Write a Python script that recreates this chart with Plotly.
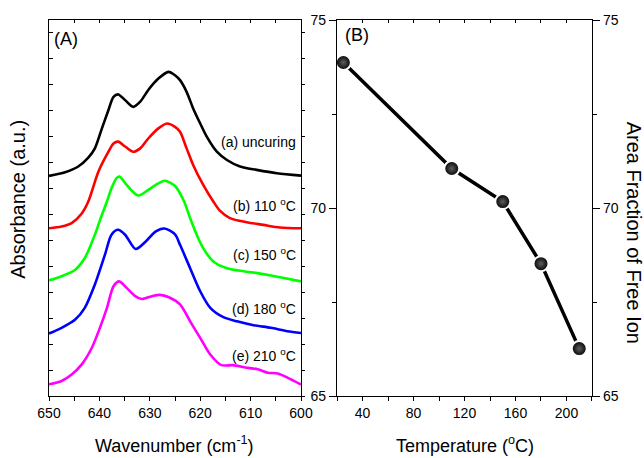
import plotly.graph_objects as go

# ---------------- Panel A data (wavenumber, absorbance a.u. with offsets) ----------------
wn_a = [650, 646.8, 644.2, 642.2, 640.9, 639.5, 638.2, 637.2, 636.25, 634.9, 633.3, 631.9,
        630.3, 628.3, 626.3, 625.0, 624.0, 622.7, 621.4, 620.0, 618.7, 616.7, 614.7, 612.1,
        608.8, 604.8, 600]
abs_a = [8.49, 8.63, 8.85, 9.19, 9.55, 10.32, 11.03, 11.54, 11.63, 11.41, 11.15, 11.35,
         11.80, 12.24, 12.50, 12.37, 12.18, 11.73, 11.09, 10.51, 10.00, 9.42, 9.10, 8.85,
         8.72, 8.59, 8.50]

wn_b = [650, 647.5, 645.5, 643.5, 642.2, 640.2, 638.2, 637.2, 636.25, 634.9, 633.3, 631.9,
        630.3, 628.3, 626.6, 625.0, 624.0, 622.7, 621.4, 619.4, 617.4, 616.1, 614.1, 610.8,
        607.5, 604.2, 600]
abs_b = [6.47, 6.54, 6.67, 7.04, 7.50, 8.65, 9.42, 9.74, 9.81, 9.62, 9.42, 9.55,
         9.93, 10.32, 10.51, 10.38, 10.19, 9.55, 8.91, 8.14, 7.50, 7.15, 6.86, 6.70,
         6.60, 6.50, 6.47]

wn_c = [650, 647.5, 644.8, 642.9, 640.9, 639.5, 638.5, 637.6, 636.6, 636.0, 634.6, 632.3,
        630.3, 628.3, 627.0, 625.0, 623.3, 622.0, 620.7, 619.4, 617.4, 614.7, 611.4, 608.7,
        606.0, 603.4, 600]
abs_c = [4.46, 4.62, 4.87, 5.32, 6.22, 6.99, 7.50, 8.01, 8.40, 8.46, 8.14, 7.73,
         7.95, 8.20, 8.30, 8.10, 7.55, 6.86, 6.22, 5.70, 5.19, 4.93, 4.81, 4.74,
         4.65, 4.55, 4.42]

wn_d = [650, 647.5, 644.8, 642.9, 640.9, 638.9, 637.6, 636.3, 634.9, 632.8, 630.8, 628.8,
        627.1, 625.0, 624.0, 622.0, 620.0, 618.0, 615.4, 612.7, 609.4, 606.0, 602.7, 600]
abs_d = [2.41, 2.63, 2.95, 3.40, 4.30, 5.45, 6.22, 6.41, 6.22, 5.67, 5.96, 6.35,
         6.46, 6.23, 5.83, 4.93, 4.04, 3.40, 3.04, 2.88, 2.73, 2.63, 2.50, 2.43]

wn_e = [650, 647.5, 645.5, 643.5, 641.5, 639.9, 638.5, 637.2, 636.1, 634.6, 632.9, 631.6,
        629.6, 628.0, 626.2, 624.0, 622.0, 620.0, 618.0, 615.8, 613.5, 611.1, 608.6, 606.6,
        604.6, 602.6, 600]
abs_e = [0.45, 0.58, 0.83, 1.22, 1.86, 2.63, 3.40, 4.23, 4.42, 4.17, 3.85, 3.74,
         3.85, 3.90, 3.81, 3.53, 2.88, 2.24, 1.60, 1.19, 1.19, 1.10, 1.03, 0.90,
         0.87, 0.70, 0.44]

curve_names = ["(a) uncuring", "(b) 110 <sup>o</sup>C", "(c) 150 <sup>o</sup>C",
               "(d) 180 <sup>o</sup>C", "(e) 210 <sup>o</sup>C"]
curve_colors = ["#000000", "#FF0000", "#00FF00", "#0000FF", "#FF00FF"]
label_y = [9.81, 7.35, 5.46, 3.38, 1.58]

# ---------------- Panel B data ----------------
temperature = [25, 110, 150, 180, 210]
area_fraction = [73.87, 71.05, 70.17, 68.52, 66.26]

wn_ticks = [650, 645, 640, 635, 630, 625, 620, 615, 610, 605, 600]
temp_ticks = [20, 40, 60, 80, 100, 120, 140, 160, 180, 200, 220]

FONT = "Liberation Sans, Arial, sans-serif"

fig = go.Figure()

series = [(wn_a, abs_a), (wn_b, abs_b), (wn_c, abs_c), (wn_d, abs_d), (wn_e, abs_e)]
for (xs, ys), col in zip(series, curve_colors):
    fig.add_trace(go.Scatter(x=xs, y=ys, mode="lines", xaxis="x", yaxis="y",
                             line=dict(color=col, width=2.6, shape="spline", smoothing=0.8),
                             showlegend=False, hoverinfo="skip"))

fig.add_trace(go.Scatter(x=temperature, y=area_fraction, mode="lines+markers",
                         xaxis="x2", yaxis="y2",
                         line=dict(color="black", width=3.5),
                         marker=dict(size=15, color="black",
                                     gradient=dict(type="radial", color="#5e5e5e"),
                                     line=dict(color="white", width=2)),
                         showlegend=False, hoverinfo="skip"))

axcommon = dict(showgrid=False, zeroline=False, showline=True, linecolor="black",
                linewidth=1.3, tickcolor="black", tickwidth=1.2,
                tickfont=dict(family=FONT, size=14, color="black"))

dA = [0, 0.4641]
dB = [0.5304, 1]

fig.update_layout(
    width=644, height=458,
    margin=dict(l=49, r=52, t=17, b=62),
    paper_bgcolor="white", plot_bgcolor="white",
    xaxis=dict(domain=dA, range=[650, 600], anchor="y", ticks="outside", ticklen=4,
               tickvals=wn_ticks,
               ticktext=[str(v) if v % 10 == 0 else "" for v in wn_ticks], **axcommon),
    yaxis=dict(domain=[0, 1], range=[0, 14.5], anchor="x", ticks="inside", ticklen=4,
               dtick=1, tick0=0, showticklabels=False, **axcommon),
    xaxis3=dict(domain=dA, range=[650, 600], anchor="y", overlaying="x", side="top",
                ticks="inside", ticklen=3, tickvals=wn_ticks, showticklabels=False, **axcommon),
    yaxis3=dict(range=[0, 14.5], anchor="x", overlaying="y", side="right",
                ticks="outside", ticklen=3, dtick=1, tick0=0, showticklabels=False, **axcommon),
    xaxis2=dict(domain=dB, range=[20, 220], anchor="y2", ticks="outside", ticklen=4,
                tickvals=temp_ticks,
                ticktext=[str(v) if v % 40 == 0 and v <= 200 else "" for v in temp_ticks],
                **axcommon),
    yaxis2=dict(domain=[0, 1], range=[65, 75], anchor="x2", ticks="outside", ticklen=7,
                tickvals=[65, 70, 75],
                minor=dict(tickvals=[67.5, 72.5], ticks="outside", ticklen=4,
                           tickcolor="black", tickwidth=1.2),
                **axcommon),
    xaxis4=dict(domain=dB, range=[20, 220], anchor="y2", overlaying="x2", side="top",
                ticks="inside", ticklen=3, tickvals=temp_ticks, showticklabels=False,
                **axcommon),
    yaxis4=dict(range=[65, 75], anchor="x2", overlaying="y2", side="right",
                ticks="outside", ticklen=7, tickvals=[65, 70, 75],
                minor=dict(tickvals=[67.5, 72.5], ticks="outside", ticklen=4,
                           tickcolor="black", tickwidth=1.2),
                **axcommon),
)

# dummy traces to activate overlay axes
fig.add_trace(go.Scatter(x=[None], y=[None], xaxis="x3", yaxis="y3", showlegend=False))
fig.add_trace(go.Scatter(x=[None], y=[None], xaxis="x4", yaxis="y4", showlegend=False))

ann = []
for name, ly in zip(curve_names, label_y):
    ann.append(dict(x=600.6, y=ly, xref="x", yref="y", text=name, showarrow=False,
                    xanchor="right", yanchor="middle",
                    font=dict(family=FONT, size=14, color="black")))

ann += [
    dict(x=0.0055, y=0.95, xref="paper", yref="paper", text="(A)", showarrow=False,
         xanchor="left", yanchor="middle", font=dict(family=FONT, size=18, color="black")),
    dict(x=0.5414, y=0.9604, xref="paper", yref="paper", text="(B)", showarrow=False,
         xanchor="left", yanchor="middle", font=dict(family=FONT, size=18, color="black")),
    dict(x=0.232, y=-0.129, xref="paper", yref="paper", text="Wavenumber (cm<sup>-1</sup>)",
         showarrow=False, xanchor="center", yanchor="middle",
         font=dict(family=FONT, size=18, color="black")),
    dict(x=0.766, y=-0.129, xref="paper", yref="paper", text="Temperature (<sup>o</sup>C)",
         showarrow=False, xanchor="center", yanchor="middle",
         font=dict(family=FONT, size=18, color="black")),
    dict(x=-0.057, y=0.522, xref="paper", yref="paper", text="Absorbance (a.u.)",
         showarrow=False, textangle=-90, xanchor="center", yanchor="middle",
         font=dict(family=FONT, size=20, color="black")),
    dict(x=1.077, y=0.435, xref="paper", yref="paper", text="Area Fraction of Free Ion",
         showarrow=False, textangle=90, xanchor="center", yanchor="middle",
         font=dict(family=FONT, size=20, color="black")),
]
fig.update_layout(annotations=ann)

fig.write_html("out.html")
